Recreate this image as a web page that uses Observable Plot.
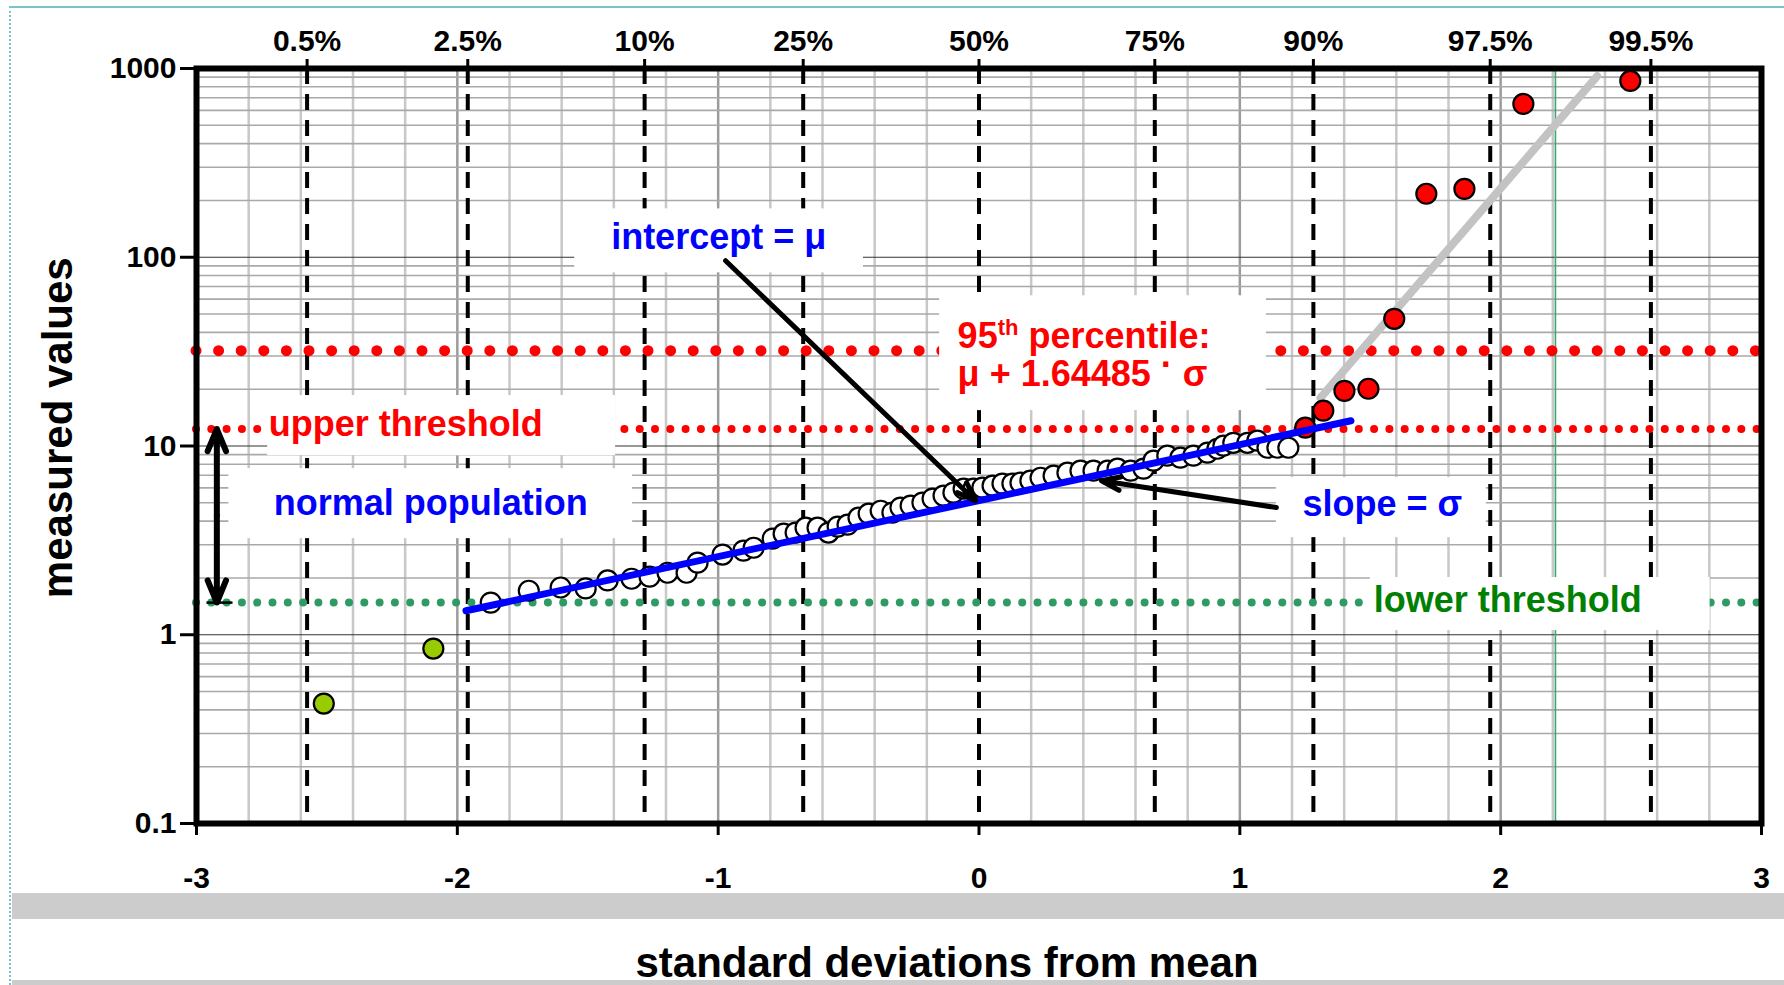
<!DOCTYPE html>
<html>
<head>
<meta charset="utf-8">
<script src="https://cdn.jsdelivr.net/npm/d3@7"></script>
<script src="https://cdn.jsdelivr.net/npm/@observablehq/plot@0.6"></script>
<style>
  html, body { margin: 0; padding: 0; background: #fff; }
  body { font-family: "Liberation Sans", Arial, sans-serif; }
  #page { position: relative; width: 1784px; height: 985px; overflow: hidden; background: #fff; }
  #chart { position: absolute; left: 0; top: 0; }
  .topborder { position: absolute; left: 9px; top: 6px; width: 1775px; height: 2px; background: #7cc3c7; }
  .leftborder { position: absolute; left: 9px; top: 6px; height: 979px; border-left: 2px dotted #7cc3c7; }
  .band1 { position: absolute; left: 12px; top: 893px; width: 1772px; height: 26px; background: #cccccc; }
  .band2 { position: absolute; left: 12px; top: 980px; width: 1772px; height: 5px; background: #cccccc; }
  .xtitle { position: absolute; left: 947px; top: 942px; transform: translateX(-50%); font-weight: bold;
            font-size: 42px; line-height: 42px; white-space: nowrap; color: #000; }
</style>
</head>
<body>
<div id="page">
  <div id="chart"></div>
  <div class="topborder"></div>
  <div class="leftborder"></div>
  <div class="band1"></div>
  <div class="xtitle">standard deviations from mean</div>
  <div class="band2"></div>
</div>
<script>
// ---------- data ----------
const percentileLabels = ["0.5%", "2.5%", "10%", "25%", "50%", "75%", "90%", "97.5%", "99.5%"];
const percentileZ = [-2.576, -1.960, -1.282, -0.674, 0, 0.674, 1.282, 1.960, 2.576];
const xTicks = [-3, -2, -1, 0, 1, 2, 3];
const yTicks = [0.1, 1, 10, 100, 1000];

// normal population (open circles)
const zNormal = [-1.872,-1.726,-1.604,-1.508,-1.424,-1.332,-1.263,-1.194,-1.121,-1.079,-0.983,-0.903,-0.864,-0.791,-0.749,-0.703,-0.665,-0.619,-0.577,-0.542,-0.504,-0.462,-0.423,-0.377,-0.332,-0.301,-0.262,-0.217,-0.178,-0.136,-0.098,-0.059,-0.021,0.013,0.052,0.090,0.128,0.159,0.197,0.236,0.286,0.339,0.389,0.439,0.493,0.531,0.581,0.631,0.669,0.722,0.772,0.822,0.876,0.914,0.937,0.975,1.029,1.067,1.106,1.144,1.186];
const vNormal = [1.48,1.71,1.78,1.76,1.94,1.98,2.03,2.13,2.13,2.41,2.66,2.79,2.89,3.23,3.43,3.48,3.69,3.69,3.48,3.74,3.83,4.17,4.38,4.54,4.44,4.72,4.83,5.01,5.26,5.46,5.66,5.94,5.94,6.02,6.16,6.32,6.32,6.39,6.55,6.79,6.96,7.22,7.40,7.40,7.40,7.58,7.40,7.58,8.36,8.89,8.67,8.89,9.22,9.67,10.04,10.4,10.4,10.67,9.79,9.79,9.79];

// low outliers (green) and high outliers (red)
const zLow = [-2.512, -2.092];
const vLow = [0.432, 0.845];
const zHigh = [1.251, 1.320, 1.401, 1.493, 1.592, 1.715, 1.861, 2.087, 2.497];
const vHigh = [12.5, 15.4, 19.6, 20.1, 47.2, 217, 230, 649, 859];

// fitted line of the normal population and of the upper tail
const fitZ = [-1.967, 1.426];
const fitV = [1.34, 13.6];
const tailZ = [1.309, 2.370];
const tailV = [18.0, 912];

// thresholds
const percentile95 = 32;
const upperThreshold = 12.3;
const lowerThreshold = 1.48;
const greenMarkerZ = [2.21];

// annotation texts
const noteIntercept = "intercept = μ";
const notePct1 = "95th percentile:";
const notePct2 = "μ + 1.64485 · σ";
const noteUpper = "upper threshold";
const noteNormal = "normal population";
const noteSlope = "slope = σ";
const noteLower = "lower threshold";
const yTitle = "measured values";

// ---------- derived tables ----------
const normalPts = zNormal.map((z, i) => ({z, v: vNormal[i]}));
const lowPts = zLow.map((z, i) => ({z, v: vLow[i]}));
const highPts = zHigh.map((z, i) => ({z, v: vHigh[i]}));
const fitPts = fitZ.map((z, i) => ({z, v: fitV[i]}));
const tailPts = tailZ.map((z, i) => ({z, v: tailV[i]}));
const pctMap = new Map(percentileZ.map((z, i) => [z, percentileLabels[i]]));

const xGridAll = d3.range(-14, 15).map(i => i / 5);
const xGridMinor = xGridAll.filter(d => Math.abs(d - Math.round(d)) > 1e-9);
const xGridMajor = [-2, -1, 1, 2];
const yMinor = [];
for (const k of [-1, 0, 1, 2]) for (let m = 2; m <= 9; m++) yMinor.push(m * Math.pow(10, k));

const boxes = [
  {x1: -1.550, x2: -0.443, y1: 82.7, y2: 180.4},   // intercept
  {x1: -0.151, x2: 1.102, y1: 15.4, y2: 62.5},     // 95th percentile
  {x1: 1.140, x2: 1.945, y1: 3.27, y2: 6.80},      // slope
  {x1: 1.500, x2: 2.803, y1: 1.052, y2: 2.01},     // lower threshold
  {x1: -2.876, x2: -1.328, y1: 3.23, y2: 7.58},    // normal population
  {x1: -2.727, x2: -1.393, y1: 8.88, y2: 18.5}     // upper threshold
];

const lab = {fontSize: 36, fontWeight: "bold", text: d => d};

const svg = Plot.plot({
  width: 1784,
  height: 893,
  marginLeft: 196,
  marginRight: 23,
  marginTop: 68,
  marginBottom: 70,
  style: {fontFamily: "'Liberation Sans', Arial, sans-serif", background: "transparent", color: "black", overflow: "visible"},
  x: {domain: [-3, 3]},
  y: {type: "log", domain: [0.1, 1000]},
  marks: [
    // grid
    Plot.ruleX(xGridMinor, {stroke: "#c8c8c8", strokeWidth: 2.5}),
    Plot.ruleX(xGridMajor, {stroke: "#9c9c9c", strokeWidth: 2.5}),
    Plot.ruleY(yMinor, {stroke: "#a9a9a9", strokeWidth: 1.6}),
    Plot.ruleY(yTicks, {stroke: "#333", strokeWidth: 1.2}),
    Plot.ruleX(greenMarkerZ, {stroke: "#3aa76d", strokeWidth: 1.6}),
    // percentile dashed lines
    Plot.ruleX(percentileZ, {stroke: "black", strokeWidth: 4, strokeDasharray: "16,10"}),
    // thresholds
    Plot.ruleY([percentile95], {stroke: "red", strokeWidth: 11, strokeDasharray: "0,22.6", strokeLinecap: "round"}),
    Plot.ruleY([upperThreshold], {stroke: "red", strokeWidth: 8, strokeDasharray: "0,15.3", strokeLinecap: "round"}),
    Plot.ruleY([lowerThreshold], {stroke: "#2e9b63", strokeWidth: 8, strokeDasharray: "0,15.3", strokeLinecap: "round"}),
    // label boxes
    Plot.rect(boxes, {x1: "x1", x2: "x2", y1: "y1", y2: "y2", fill: "white"}),
    // tail line
    Plot.line(tailPts, {x: "z", y: "v", stroke: "#c3c3c3", strokeWidth: 8}),
    // points
    Plot.dot(normalPts, {x: "z", y: "v", r: 10, fill: "white", stroke: "black", strokeWidth: 2.2}),
    Plot.dot(lowPts, {x: "z", y: "v", r: 10, fill: "#99cc00", stroke: "black", strokeWidth: 2.2}),
    Plot.dot(highPts, {x: "z", y: "v", r: 10, fill: "red", stroke: "black", strokeWidth: 2.2}),
    // fitted line
    Plot.line(fitPts, {x: "z", y: "v", stroke: "#0000ff", strokeWidth: 7}),
    // arrows
    Plot.arrow([0], {x1: -0.9715, y1: 95.8, x2: -0.0134, y2: 5.13, stroke: "black", strokeWidth: 5, headLength: 6, headAngle: 40}),
    Plot.arrow([0], {x1: 1.140, y1: 4.72, x2: 0.4695, y2: 6.55, stroke: "black", strokeWidth: 5, headLength: 6, headAngle: 40}),
    Plot.arrow([0], {x1: -2.922, y1: 4.3, x2: -2.922, y2: upperThreshold, stroke: "black", strokeWidth: 6, headLength: 6, headAngle: 45}),
    Plot.arrow([0], {x1: -2.922, y1: 4.3, x2: -2.922, y2: lowerThreshold, stroke: "black", strokeWidth: 6, headLength: 6, headAngle: 45}),
    Plot.ruleY([lowerThreshold], {x1: -2.96, x2: -2.86, stroke: "black", strokeWidth: 2.5}),
    // annotation texts
    Plot.text([noteIntercept], {...lab, x: -0.998, y: 126.7, fill: "blue"}),
    Plot.text([notePct1], {...lab, x: -0.082, y: 38.1, fill: "red", textAnchor: "start"}),
    Plot.text([notePct2], {...lab, x: -0.082, y: 24.0, fill: "red", textAnchor: "start"}),
    Plot.text([noteUpper], {...lab, x: -2.723, y: 13.0, fill: "red", textAnchor: "start"}),
    Plot.text([noteNormal], {...lab, x: -2.102, y: 4.95, fill: "blue"}),
    Plot.text([noteSlope], {...lab, x: 1.546, y: 4.9, fill: "blue"}),
    Plot.text([noteLower], {...lab, x: 2.027, y: 1.52, fill: "#008000"}),
    // frame and axes
    Plot.frame({stroke: "black", strokeWidth: 6}),
    Plot.axisY(yTicks, {tickSize: 16, tickPadding: 4, fontSize: 30, fontWeight: "bold", strokeWidth: 3, label: null,
                        tickFormat: d => String(d)}),
    Plot.axisX(xTicks, {anchor: "bottom", tickSize: 12, tickPadding: 31, fontSize: 30, fontWeight: "bold", strokeWidth: 3, label: null,
                        tickFormat: d => (d < 0 ? "-" + Math.abs(d) : String(d))}),
    Plot.axisX(percentileZ, {anchor: "top", tickSize: 10, tickPadding: 8, fontSize: 30, fontWeight: "bold", strokeWidth: 3, label: null,
                        tickFormat: d => pctMap.get(d)}),
    Plot.text([yTitle], {x: -3, y: 12.5, text: d => d, rotate: -90, dx: -138, fontSize: 42, fontWeight: "bold", fill: "black"})
  ]
});

// superscript / raised dot in the 95th percentile label
d3.select(svg).selectAll("text").each(function () {
  const t = this.textContent;
  const sel = d3.select(this);
  if (t === notePct1) {
    sel.text(null);
    sel.append("tspan").text("95");
    sel.append("tspan").attr("dy", -13).attr("font-size", 22).text("th");
    sel.append("tspan").attr("dy", 13).text(" percentile:");
  } else if (t === notePct2) {
    sel.text(null);
    sel.append("tspan").text("μ + 1.64485 ");
    sel.append("tspan").attr("dy", -9).text("·");
    sel.append("tspan").attr("dy", 9).text(" σ");
  }
});

document.getElementById("chart").appendChild(svg);
</script>
</body>
</html>
